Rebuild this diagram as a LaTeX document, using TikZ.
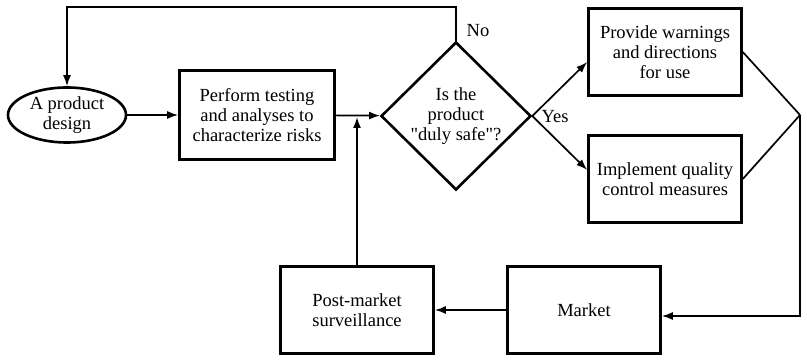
\documentclass[tikz,border=0pt]{standalone}
\usepackage{fontspec}
\setmainfont{Liberation Serif}[Ligatures=TeXOff]
\usetikzlibrary{shapes.geometric, arrows.meta}

\begin{document}
\begin{tikzpicture}[x=1pt, y=-1pt, line width=1.7pt,
    -{Latex[length=11pt, width=8pt]},
    box/.style={draw, line width=2.6pt, rectangle, minimum width=153pt,
      minimum height=87pt, align=center, inner sep=2pt},
    decision/.style={draw, line width=2.6pt, diamond, minimum width=150pt,
      minimum height=148pt, inner sep=0pt, align=center},
    start/.style={draw, line width=2.6pt, ellipse, minimum width=118pt,
      minimum height=55pt, inner sep=0pt, align=center},
    every node/.style={font=\fontsize{18.5}{20}\selectfont}]
    \useasboundingbox (0,0) rectangle (807,363);

    \node[start] (design) at (67,115) {A product\\design};
    \node[box, minimum width=155pt, minimum height=89pt] (test) at (257,115)
      {Perform testing\\and analyses to\\characterize risks};
    \node[decision] (safe) at (456,116) {Is the\\product\\"duly safe"?};
    \node[box] (warn) at (665,52) {Provide warnings\\and directions\\for use};
    \node[box] (qc) at (665,179) {Implement quality\\control measures};
    \node[box] (market) at (584,310) {Market};
    \node[box] (post) at (357,310) {Post-market\\surveillance};

    \node (no) at (478,31) {No};
    \node (yes) at (555,117) {Yes};

    \coordinate (top) at (67,7);
    \coordinate (join) at (357,117);
    \coordinate (merge) at (800,115);

    \draw (safe.north) |- (top) -- (design.north);
    \draw (design) -- (test);
    \draw (test) -- (safe);
    \draw (post) -- (join);
    \draw (safe.east) -- ([yshift=-10pt]warn.west);
    \draw (safe.east) -- ([yshift=9pt]qc.west);
    \draw[-] (warn.east) -- (merge);
    \draw[-] (qc.east) -- (merge);
    \draw (merge) |- ([yshift=-6pt]market.east);
    \draw (market) -- (post);
\end{tikzpicture}
\end{document}
